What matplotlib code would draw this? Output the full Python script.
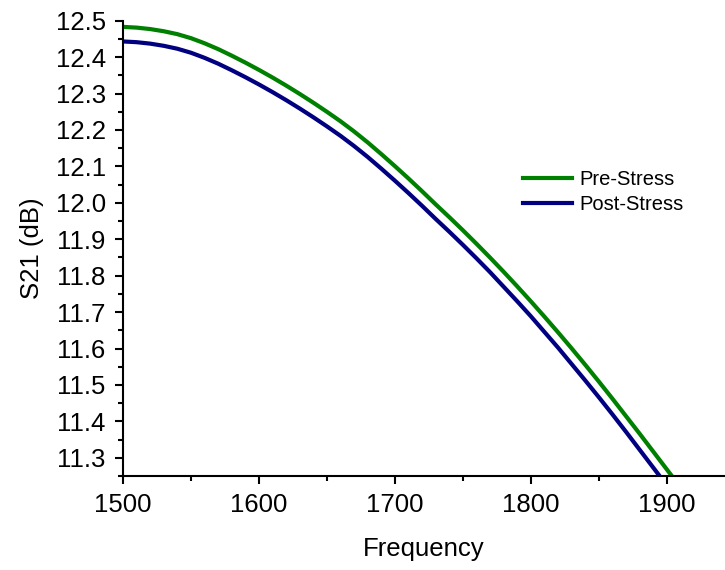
import matplotlib
matplotlib.use("Agg")
from matplotlib import pyplot as plt
from matplotlib.ticker import MultipleLocator

freq = [1500, 1510, 1520, 1530, 1540, 1550, 1560, 1570, 1580, 1590,
        1600, 1610, 1620, 1630, 1640, 1650, 1660, 1670, 1680, 1690,
        1700, 1710, 1720, 1730, 1740, 1750, 1760, 1770, 1780, 1790,
        1800, 1810, 1820, 1830, 1840, 1850, 1860, 1870, 1880, 1890,
        1900, 1910]

pre_stress = [12.483, 12.481, 12.477, 12.471, 12.463, 12.452, 12.438, 12.422, 12.404, 12.385,
              12.365, 12.344, 12.322, 12.299, 12.275, 12.250, 12.224, 12.196, 12.166, 12.134,
              12.101, 12.067, 12.032, 11.996, 11.961, 11.925, 11.888, 11.850, 11.811, 11.771,
              11.730, 11.688, 11.645, 11.601, 11.556, 11.510, 11.463, 11.415, 11.367, 11.318,
              11.269, 11.220]

post_stress = [12.443, 12.441, 12.437, 12.431, 12.423, 12.412, 12.398, 12.382, 12.364, 12.345,
               12.325, 12.304, 12.282, 12.259, 12.235, 12.210, 12.184, 12.156, 12.126, 12.094,
               12.061, 12.027, 11.992, 11.956, 11.921, 11.885, 11.848, 11.810, 11.770, 11.730,
               11.689, 11.646, 11.603, 11.558, 11.513, 11.467, 11.420, 11.372, 11.323, 11.274,
               11.225, 11.176]

plt.rcParams['font.family'] = ['Liberation Sans', 'DejaVu Sans']

fig = plt.figure(figsize=(7.25, 5.7), dpi=100)
ax = fig.add_axes([0.1697, 0.1649, 0.8303, 0.7988])

ax.plot(freq, pre_stress, color='#008000', linewidth=3.0, label='Pre-Stress')
ax.plot(freq, post_stress, color='#000080', linewidth=3.0, label='Post-Stress')

ax.set_xlim(1500, 1943)
ax.set_ylim(11.25, 12.5)

ax.xaxis.set_major_locator(MultipleLocator(100))
ax.xaxis.set_minor_locator(MultipleLocator(50))
ax.yaxis.set_major_locator(MultipleLocator(0.1))
ax.yaxis.set_minor_locator(MultipleLocator(0.05))
ax.yaxis.set_major_formatter(plt.FormatStrFormatter('%.1f'))

for side in ['top', 'right']:
    ax.spines[side].set_visible(False)
for side in ['left', 'bottom']:
    ax.spines[side].set_linewidth(1.5)

ax.tick_params(which='major', length=6, width=1.5, labelsize=18.5, pad=6.5, direction='out')
ax.tick_params(which='minor', length=3.5, width=1.5, direction='out')

ax.set_xlabel('Frequency', fontsize=18.5, labelpad=14)
ax.set_ylabel('S21 (dB)', fontsize=18.5, labelpad=8)

ax.legend(loc='center left', bbox_to_anchor=(0.7214, 0.663), bbox_transform=fig.transFigure,
          frameon=False, fontsize=14.5, handlelength=2.45, handletextpad=0.35,
          labelspacing=0.3, borderpad=0, borderaxespad=0)

fig.savefig('out.png', dpi=100)
